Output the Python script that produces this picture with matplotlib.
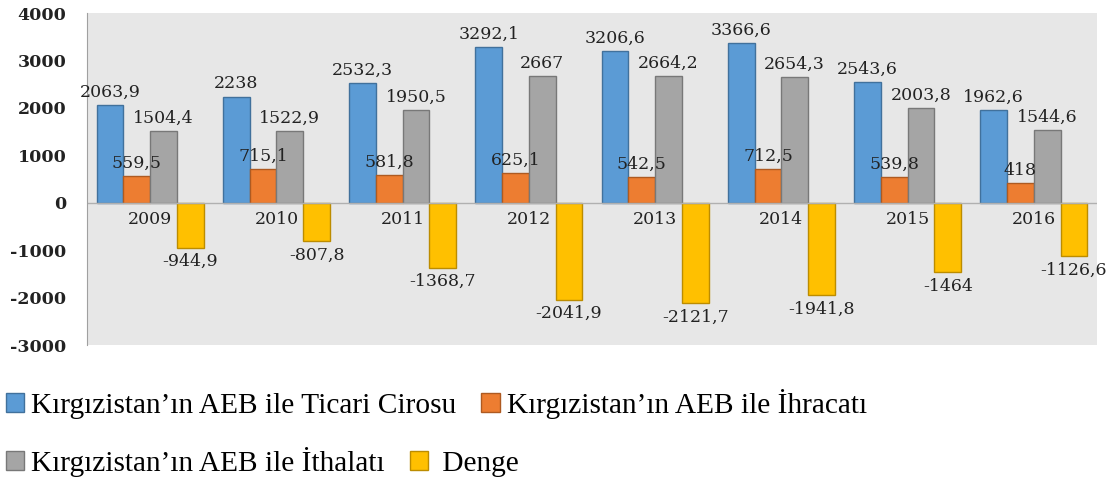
import matplotlib.pyplot as plt
from matplotlib.patches import Patch
import numpy as np

plt.rcParams['axes.unicode_minus'] = False

years = ['2009', '2010', '2011', '2012', '2013', '2014', '2015', '2016']
ciro = [2063.9, 2238, 2532.3, 3292.1, 3206.6, 3366.6, 2543.6, 1962.6]
ihracat = [559.5, 715.1, 581.8, 625.1, 542.5, 712.5, 539.8, 418]
ithalat = [1504.4, 1522.9, 1950.5, 2667, 2664.2, 2654.3, 2003.8, 1544.6]
denge = [-944.9, -807.8, -1368.7, -2041.9, -2121.7, -1941.8, -1464, -1126.6]

names = ["Kırgızistan’ın AEB ile Ticari Cirosu", "Kırgızistan’ın AEB ile İhracatı",
         "Kırgızistan’ın AEB ile İthalatı", " Denge"]
fills = ['#5b9bd5', '#ed7d31', '#a5a5a5', '#ffc000']
edges = ['#41719c', '#ae5a21', '#787878', '#bc8c00']

def fmt(v):
    if float(v).is_integer():
        return str(int(v))
    return ('%.1f' % v).replace('.', ',')

fig = plt.figure(figsize=(11.17, 4.84), dpi=100)
ax = fig.add_axes([0.078, 0.287, 0.904, 0.686])
ax.set_facecolor('#e7e7e7')

x = np.arange(len(years))
w = 0.212
lab_size = 12.5
series = [ciro, ihracat, ithalat, denge]
for i, vals in enumerate(series):
    pos = x + (i - 1.5) * w
    ax.bar(pos, vals, w, color=fills[i], edgecolor=edges[i], linewidth=1)
    for p, v in zip(pos, vals):
        if v >= 0:
            ax.annotate(fmt(v), (p, v), xytext=(0, 3), textcoords='offset points',
                        ha='center', va='bottom', fontsize=lab_size, family='DejaVu Serif',
                        color='#222222')
        else:
            ax.annotate(fmt(v), (p, v), xytext=(0, -4), textcoords='offset points',
                        ha='center', va='top', fontsize=lab_size, family='DejaVu Serif',
                        color='#222222')

for xi, yr in zip(x, years):
    ax.annotate(yr, (xi, 0), xytext=(0, -6), textcoords='offset points',
                ha='center', va='top', fontsize=lab_size, family='DejaVu Serif', color='#222222')

ax.axhline(0, color='#b0b0b0', linewidth=1)
ax.set_xlim(-0.5, len(years) - 0.5)
ax.set_ylim(-3000, 4000)
ax.set_yticks(range(-3000, 4001, 1000))
ax.set_xticks([])
for lab in ax.get_yticklabels():
    lab.set_fontfamily('DejaVu Serif')
    lab.set_fontweight('bold')
    lab.set_fontsize(12.5)
    lab.set_color('#222222')
ax.tick_params(axis='y', length=0, pad=15)
for s in ['top', 'right', 'bottom']:
    ax.spines[s].set_visible(False)
ax.spines['left'].set_color('#a0a0a0')

# legend in two rows like the Excel one
handles = [Patch(facecolor=fills[i], edgecolor=edges[i], label=names[i]) for i in range(4)]
leg_kw = dict(ncol=2, frameon=False, handlelength=0.62, handleheight=0.62,
              handletextpad=0.25, columnspacing=0.85, borderaxespad=0, borderpad=0,
              prop={'family': 'Liberation Serif', 'size': 21.2})
leg1 = fig.legend(handles=handles[:2], loc='center left', bbox_to_anchor=(0.005, 0.165), **leg_kw)
leg2 = fig.legend(handles=handles[2:], loc='center left', bbox_to_anchor=(0.005, 0.045), **leg_kw)

fig.savefig('out.png', dpi=100)
